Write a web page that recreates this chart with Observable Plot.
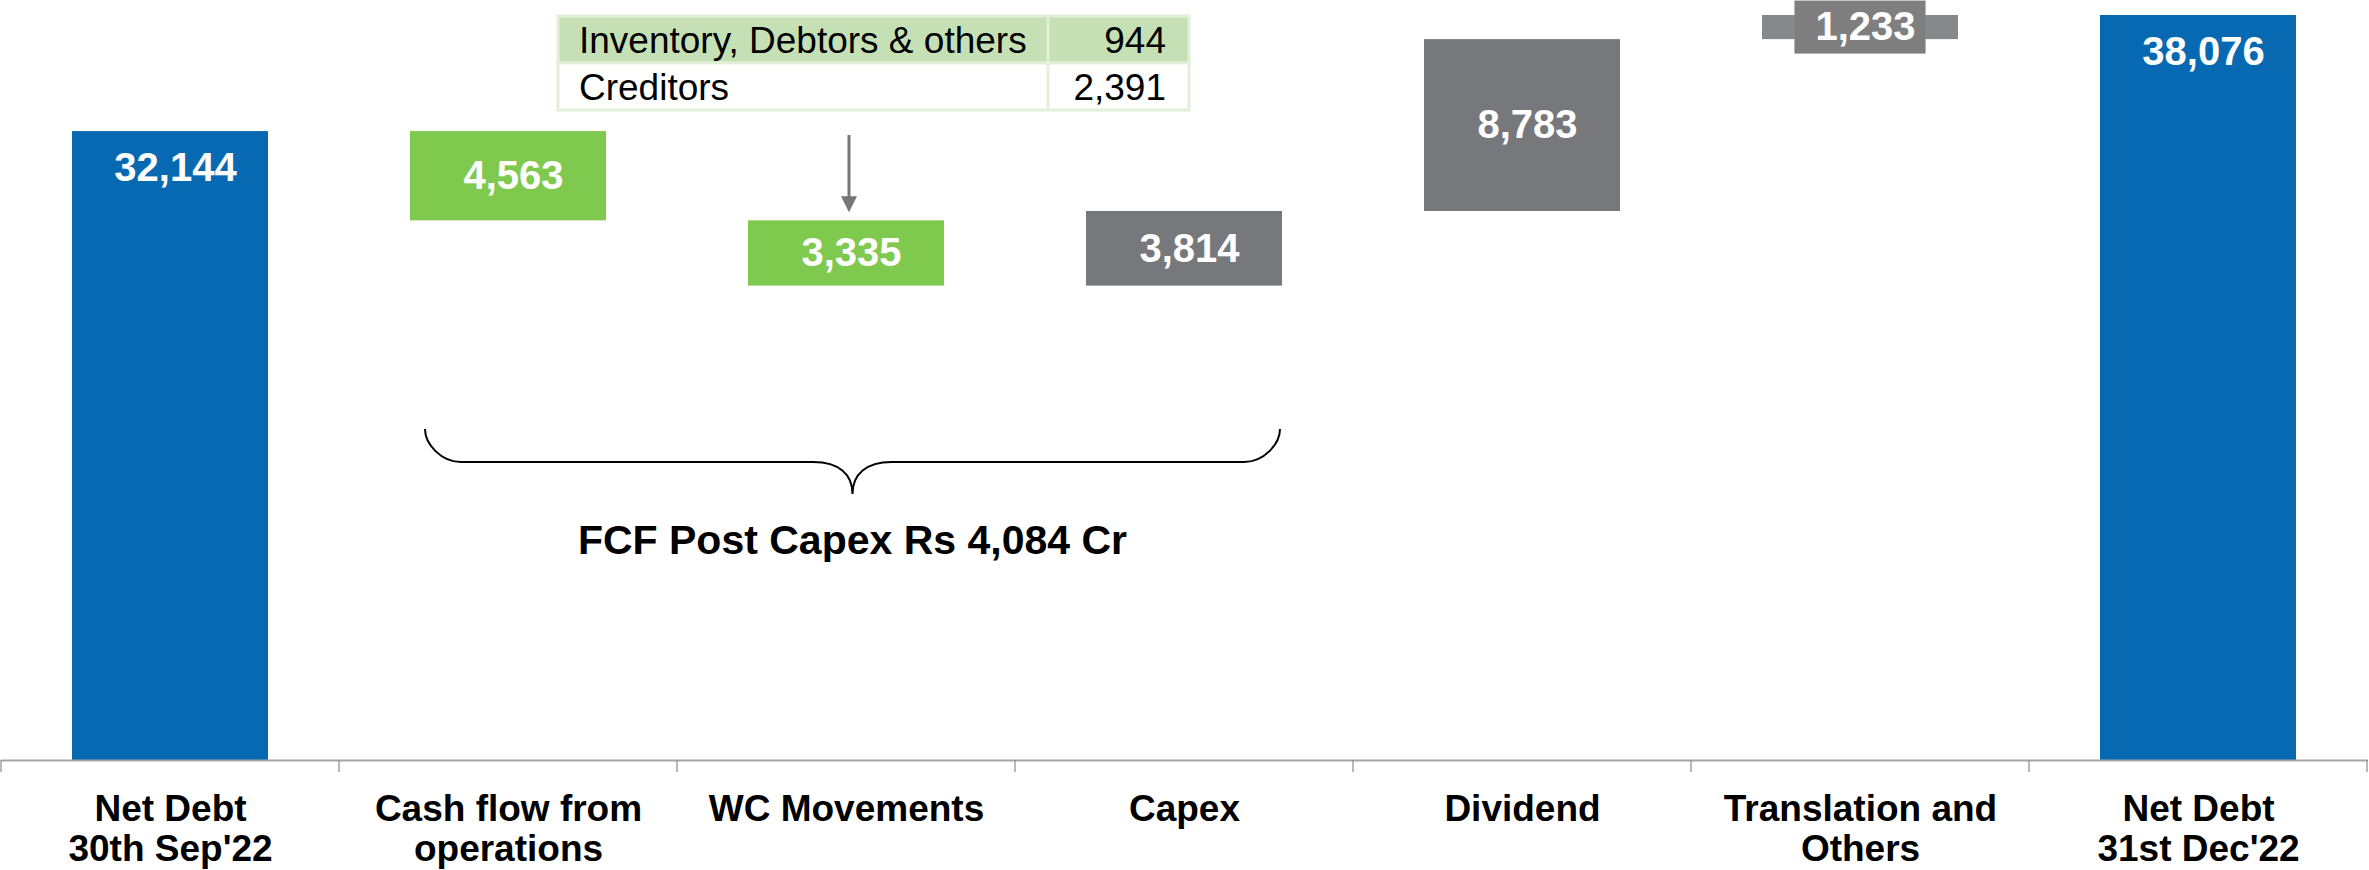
<!DOCTYPE html>
<html><head><meta charset="utf-8">
<script src="https://cdn.jsdelivr.net/npm/d3@7"></script>
<script src="https://cdn.jsdelivr.net/npm/@observablehq/plot@0.6"></script>
<style>
html,body{margin:0;padding:0;background:#fff;}
#chart{width:2369px;height:870px;}
</style></head><body><div id="chart"></div>
<script>
// ---- data ----
const categories = ["Net Debt\n30th Sep'22","Cash flow from\noperations","WC Movements","Capex","Dividend","Translation and\nOthers","Net Debt\n31st Dec'22"];
const values = [32144, -4563, -3335, 3814, 8783, 1233, 38076];
const kinds = ["total","decrease","decrease","increase","increase","other","total"];
const wcLabels = ["Inventory, Debtors & others","Creditors"];
const wcValues = [944, 2391];
const fcfLabel = "FCF Post Capex Rs 4,084 Cr";

// ---- derived waterfall table ----
let running = 0;
const rows = categories.map((c,i)=>{
  const v = values[i]; let y1, y2;
  if (kinds[i]==="total"){ y1=0; y2=v; running=v; }
  else { y1=running; y2=running+v; running=y2; }
  return {cat:c, value:v, kind:kinds[i], y1, y2, lo:Math.min(y1,y2), hi:Math.max(y1,y2)};
});
const fmt = d3.format(",");

// ---- styles ----
const FONT = "'Liberation Sans', Arial, sans-serif";
const fills = {total:"#0769b1", decrease:"#7fc94f", increase:"#77787b", other:"#87888b"};
const W = 2369, H = 870;

const chart = Plot.plot({
  width: W, height: H,
  marginLeft: 1, marginRight: 1, marginTop: 15, marginBottom: 110,
  style: {fontFamily: FONT, background: "#fff", overflow: "visible"},
  color: {type: "identity"},
  x: {domain: categories, paddingInner: 0.42, paddingOuter: 0.21, label: null},
  y: {domain: [0, d3.max(rows, d => d.hi)], axis: null},
  marks: [
    Plot.barY(rows, {x: "cat", y1: "lo", y2: "hi", fill: d => fills[d.kind]}),
    Plot.ruleY([0], {stroke: "#a6a6a6", strokeWidth: 2}),
    Plot.axisX({tickSize: 0, tickPadding: 32, fontSize: 37, fontWeight: "bold", fill: "#000", lineHeight: 1.08, label: null}),
    Plot.text(rows.filter(d => d.kind === "total"), {x: "cat", y: "hi", dy: 37, dx: 5, text: d => fmt(Math.abs(d.value)), fill: "white", fontSize: 40, fontWeight: "bold"}),
    Plot.text(rows.filter(d => d.kind === "decrease" || d.kind === "increase"), {x: "cat", y: d => (d.lo + d.hi) / 2, dx: 5, text: d => fmt(Math.abs(d.value)), fill: "white", fontSize: 40, fontWeight: "bold"}),
    Plot.text(rows.filter(d => d.kind === "other"), {x: "cat", y: d => (d.lo + d.hi) / 2, dx: 5, text: d => fmt(Math.abs(d.value)), fill: "white", fontSize: 40, fontWeight: "bold"})
  ]
});
document.getElementById("chart").appendChild(chart);

// ---- decorations computed from Plot's scales ----
const svg = d3.select(chart);
const xs = chart.scale("x"), ys = chart.scale("y");
const bw = xs.bandwidth, step = xs.step;
const left = c => xs.apply(c);
const center = c => xs.apply(c) + bw / 2;
const y0 = ys.apply(0);

// tick marks at band boundaries
const bounds = categories.map(c => center(c) - step / 2).concat([center(categories[categories.length-1]) + step / 2]);
svg.append("g").selectAll("line").data(bounds).join("line")
  .attr("x1", d => d).attr("x2", d => d)
  .attr("y1", y0).attr("y2", y0 + 12)
  .attr("stroke", "#8c8c8c").attr("stroke-width", 1.2);

// label box behind the "other" bar's value
const other = rows.find(d => d.kind === "other");
const tNode = Array.from(chart.querySelectorAll("text")).find(t => t.textContent === fmt(Math.abs(other.value)));
const tw = tNode ? tNode.getComputedTextLength() : 97;
const oy = ys.apply((other.lo + other.hi) / 2);
const box = document.createElementNS("http://www.w3.org/2000/svg", "rect");
box.setAttribute("x", center(other.cat) - (tw + 31) / 2);
box.setAttribute("width", tw + 31);
box.setAttribute("y", oy - 26.5);
box.setAttribute("height", 53);
box.setAttribute("fill", "#7f7f7f");
if (tNode) { const g = tNode.closest("g"); g.parentNode.insertBefore(box, g); } else chart.appendChild(box);

// WC breakdown table
const wcCat = categories[2];
const tx0 = center(wcCat) - 288, tW = 631, tDiv = 490, rowH = 47, tTop = 16;
const tbl = svg.append("g").attr("text-anchor", "start");
wcLabels.forEach((lab, i) => {
  const ry = tTop + i * rowH;
  tbl.append("rect").attr("x", tx0).attr("y", ry).attr("width", tW).attr("height", rowH)
    .attr("fill", i === 0 ? "#c5e0b4" : "#fff").attr("stroke", "#e2efd9").attr("stroke-width", 3);
  tbl.append("text").attr("x", tx0 + 21).attr("y", ry + 37).attr("text-anchor", "start").text(lab)
    .attr("font-family", FONT).attr("font-size", 37).attr("fill", "#000");
  tbl.append("text").attr("x", tx0 + tW - 23).attr("y", ry + 37).attr("text-anchor", "end").text(fmt(wcValues[i]))
    .attr("font-family", FONT).attr("font-size", 37).attr("fill", "#000");
});
tbl.append("line").attr("x1", tx0 + tDiv).attr("x2", tx0 + tDiv).attr("y1", tTop).attr("y2", tTop + 2 * rowH)
  .attr("stroke", "#e2efd9").attr("stroke-width", 3);

// arrow from table to WC bar
const wc = rows[2];
const ax = center(wcCat) + 3, aTop = tTop + 2 * rowH + 25, aTip = ys.apply(wc.hi) - 8;
svg.append("line").attr("x1", ax).attr("x2", ax).attr("y1", aTop).attr("y2", aTip - 14)
  .attr("stroke", "#767676").attr("stroke-width", 3);
svg.append("path").attr("d", `M${ax-8},${aTip-16}L${ax+8},${aTip-16}L${ax},${aTip}Z`).attr("fill", "#767676");

// brace under the FCF components
const xL = left(categories[1]) + 15, xR = left(categories[3]) + bw - 2, xm = (xL + xR) / 2;
const bTop = 429, bMid = 462, bTip = 494;
svg.append("path")
  .attr("d", `M${xL},${bTop} C${xL},${bMid-18} ${xL+16},${bMid} ${xL+36},${bMid} L${xm-39},${bMid} C${xm-14},${bMid} ${xm},${bMid+12} ${xm},${bTip}` +
             ` M${xm},${bTip} C${xm},${bMid+12} ${xm+14},${bMid} ${xm+39},${bMid} L${xR-36},${bMid} C${xR-16},${bMid} ${xR},${bMid-18} ${xR},${bTop}`)
  .attr("fill", "none").attr("stroke", "#000").attr("stroke-width", 2);
svg.append("text").attr("x", xm).attr("y", 554).attr("text-anchor", "middle").text(fcfLabel)
  .attr("font-family", FONT).attr("font-size", 41).attr("font-weight", "bold").attr("fill", "#000");
</script>
</body></html>
